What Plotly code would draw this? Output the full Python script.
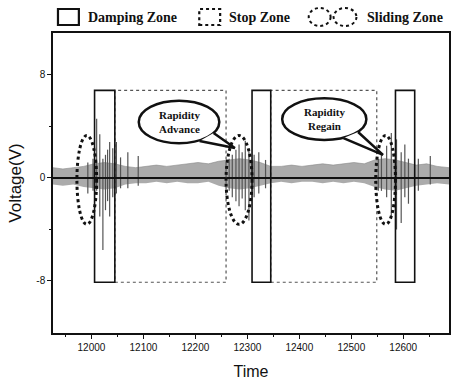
import plotly.graph_objects as go

# ---------------- data ----------------
# noise band envelope of the voltage signal
t_env = [11926, 11945, 11965, 11985, 12005, 12025, 12045, 12065, 12085, 12105,
         12125, 12145, 12165, 12185, 12205, 12225, 12245, 12265, 12285, 12305,
         12325, 12345, 12365, 12385, 12405, 12425, 12445, 12465, 12485, 12505,
         12525, 12545, 12565, 12585, 12605, 12625, 12645, 12665, 12688]
v_upper = [0.8, 0.7, 0.8, 0.9, 1.1, 1.2, 1.1, 0.9, 0.8, 0.9,
           1.0, 0.9, 1.0, 1.1, 1.2, 1.1, 1.3, 1.4, 1.5, 1.4,
           1.2, 0.9, 0.9, 1.0, 0.9, 1.0, 1.1, 1.0, 1.1, 1.2,
           1.1, 1.4, 1.5, 1.4, 1.2, 1.0, 1.1, 0.9, 0.8]
v_lower = [-0.5, -0.6, -0.5, -0.7, -0.8, -0.9, -0.8, -0.5, -0.4, -0.4,
           -0.3, -0.4, -0.3, -0.4, -0.4, -0.3, -0.6, -0.8, -0.9, -0.8,
           -0.6, -0.4, -0.3, -0.4, -0.3, -0.3, -0.4, -0.3, -0.4, -0.3,
           -0.4, -0.7, -0.9, -1.0, -0.8, -0.6, -0.5, -0.4, -0.5]

# spikes of the signal (time, max, min)
spike_t = [11993, 12003, 12010, 12016, 12022, 12027, 12031, 12035, 12041, 12048, 12056, 12070, 12090,
           12265, 12271, 12278, 12284, 12290, 12296, 12303, 12313, 12322, 12335,
           12552, 12558, 12568, 12577, 12587, 12596, 12603, 12610, 12629, 12652]
spike_hi = [1.2, 1.5, 4.6, 3.4, 1.5, 1.8, 2.2, 2.8, 2.3, 2.8, 1.6, 2.0, 1.7,
            1.5, 1.8, 2.2, 2.6, 2.0, 2.9, 2.2, 1.8, 2.0, 1.4,
            1.5, 1.8, 2.5, 3.5, 3.0, 2.0, 2.6, 1.5, 1.5, 1.7]
spike_lo = [-1.2, -1.0, -1.0, -3.0, -5.6, -2.5, -1.8, -3.0, -1.5, -1.2, -0.8, -0.8, -0.6,
            -1.0, -1.5, -1.8, -2.2, -1.6, -2.5, -3.3, -1.5, -1.2, -0.8,
            -1.0, -1.0, -1.5, -3.0, -4.0, -3.5, -1.5, -2.0, -1.0, -0.5]

# zones
zone_top, zone_bottom = 6.8, -8.1
damping_zones = [(12006, 12045), (12309, 12345), (12585, 12622)]
stop_zones = [(12045, 12259), (12345, 12549)]
sliding_zones = [(11972, 12010), (12259, 12309), (12547, 12585)]
sliding_top, sliding_bottom = 3.3, -3.6

# callouts: (x0, x1, y0, y1, base1, base2, tip, text)
callouts = [
    (12091, 12246, 2.7, 6.0, (12208, 2.87), (12235, 3.50), (12276, 2.33), "Rapidity<br>Advance"),
    (12367, 12529, 2.95, 6.19, (12485, 3.10), (12513, 3.57), (12561, 1.79), "Rapidity<br>Regain"),
]

x_ticks = [12000, 12100, 12200, 12300, 12400, 12500, 12600]
y_ticks = [-8, 0, 8]
x_range = [11926, 12688]
y_range = [-12.04, 11.26]

# ---------------- figure ----------------
fig = go.Figure()

# noise band
fig.add_trace(go.Scatter(x=t_env, y=v_lower, mode="lines", line=dict(width=0, color="#999"),
                         hoverinfo="skip", showlegend=False))
fig.add_trace(go.Scatter(x=t_env, y=v_upper, mode="lines", line=dict(width=0.6, color="#888"),
                         fill="tonexty", fillcolor="rgba(135,135,135,0.7)",
                         hoverinfo="skip", showlegend=False))

# spikes
sx, sy = [], []
for t, hi, lo in zip(spike_t, spike_hi, spike_lo):
    sx += [t, t, None]
    sy += [lo, hi, None]
fig.add_trace(go.Scatter(x=sx, y=sy, mode="lines", line=dict(width=1.2, color="#555"),
                         hoverinfo="skip", showlegend=False))

# dark centre line
fig.add_trace(go.Scatter(x=[t_env[0], t_env[-1]], y=[0, 0], mode="lines",
                         line=dict(width=2.2, color="#111"), hoverinfo="skip", showlegend=False))

shapes = []
for x0, x1 in stop_zones:
    shapes.append(dict(type="rect", xref="x", yref="y", x0=x0, x1=x1, y0=zone_bottom, y1=zone_top,
                       line=dict(color="#555", width=1.2, dash="dot")))
for x0, x1 in damping_zones:
    shapes.append(dict(type="rect", xref="x", yref="y", x0=x0, x1=x1, y0=zone_bottom, y1=zone_top,
                       line=dict(color="#111", width=1.6)))
for x0, x1 in sliding_zones:
    shapes.append(dict(type="circle", xref="x", yref="y", x0=x0, x1=x1, y0=sliding_bottom, y1=sliding_top,
                       line=dict(color="#111", width=3, dash="dot")))

annotations = []
for x0, x1, y0, y1, b1, b2, tip, text in callouts:
    shapes.append(dict(type="circle", xref="x", yref="y", x0=x0, x1=x1, y0=y0, y1=y1,
                       fillcolor="white", line=dict(color="#111", width=2.5)))
    shapes.append(dict(type="path", xref="x", yref="y",
                       path=f"M {b1[0]},{b1[1]} L {tip[0]},{tip[1]} L {b2[0]},{b2[1]}",
                       fillcolor="white", line=dict(color="#111", width=2.5)))
    annotations.append(dict(x=(x0 + x1) / 2, y=(y0 + y1) / 2, xref="x", yref="y", text=text,
                            showarrow=False, align="center",
                            font=dict(family="Liberation Serif", size=11, color="#111", weight="bold")))

# legend (drawn manually)
def px(x):
    return (x - 53) / 398

def py(y):
    return (333 - y) / 300

shapes.append(dict(type="rect", xref="paper", yref="paper", x0=px(58), x1=px(79), y0=py(25), y1=py(9),
                   line=dict(color="#111", width=2.2)))
shapes.append(dict(type="rect", xref="paper", yref="paper", x0=px(200), x1=px(221), y0=py(25), y1=py(9),
                   line=dict(color="#111", width=2.2, dash="dot")))
shapes.append(dict(type="circle", xref="paper", yref="paper", x0=px(310), x1=px(332), y0=py(26), y1=py(8),
                   line=dict(color="#111", width=2, dash="dot")))
shapes.append(dict(type="circle", xref="paper", yref="paper", x0=px(335), x1=px(358), y0=py(26), y1=py(8),
                   line=dict(color="#111", width=2, dash="dot")))
for xx, txt in [(86, "Damping Zone"), (228, "Stop Zone"), (367, "Sliding Zone")]:
    annotations.append(dict(x=px(xx), y=py(17), xref="paper", yref="paper", text=txt, showarrow=False,
                            xanchor="left", yanchor="middle",
                            font=dict(family="Liberation Serif", size=14, color="#111", weight="bold")))

fig.update_layout(
    width=452, height=384,
    margin=dict(l=53, r=1, t=33, b=51),
    paper_bgcolor="white", plot_bgcolor="white",
    shapes=shapes, annotations=annotations,
    showlegend=False,
    xaxis=dict(range=x_range, tickvals=x_ticks, ticktext=[str(v) for v in x_ticks],
               showgrid=False, zeroline=False, showline=True, linecolor="#111", linewidth=1.5,
               mirror=True, ticks="outside", ticklen=4, tickcolor="#111",
               minor=dict(dtick=50, tick0=11950, ticks="outside", ticklen=2, tickcolor="#111"),
               tickfont=dict(family="Liberation Sans Narrow, Arial", size=10, color="#111"),
               title=dict(text="Time", font=dict(family="Liberation Sans", size=16, color="#111"),
                          standoff=14)),
    yaxis=dict(range=y_range, tickvals=y_ticks, ticktext=["-8", "0", "8"],
               showgrid=False, zeroline=False, showline=True, linecolor="#111", linewidth=1.5,
               mirror=True, ticks="outside", ticklen=4, tickcolor="#111",
               minor=dict(tickvals=[-4, 4], ticks="outside", ticklen=2, tickcolor="#111"),
               tickfont=dict(family="Liberation Sans", size=10, color="#111"),
               title=dict(text="Voltage(V)", font=dict(family="Liberation Sans", size=17, color="#111"),
                          standoff=10)),
)

fig.write_html("out.html")
